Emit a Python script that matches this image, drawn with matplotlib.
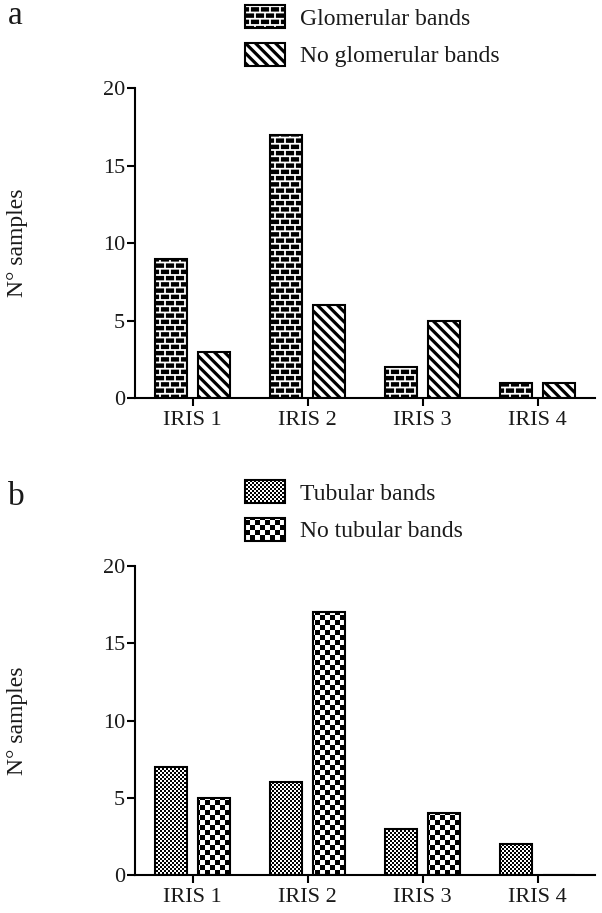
import matplotlib
matplotlib.use('Agg')
import matplotlib.pyplot as plt
import numpy as np
import matplotlib.hatch as mhatch
from matplotlib.path import Path

# ---------------- data ----------------
categories = ['IRIS 1', 'IRIS 2', 'IRIS 3', 'IRIS 4']
glomerular = [9, 17, 2, 1]
no_glomerular = [3, 6, 5, 1]
tubular = [7, 6, 3, 2]
no_tubular = [5, 17, 4, 0]
yticks = [0, 5, 10, 15, 20]
labels_a = ['Glomerular bands', 'No glomerular bands']
labels_b = ['Tubular bands', 'No tubular bands']

plt.rcParams['font.family'] = ['Liberation Serif', 'DejaVu Serif']
plt.rcParams['hatch.linewidth'] = 0.0


# ---------------- custom filled hatch textures ----------------
class _PolyHatch(mhatch.HatchPatternBase):
    key = None

    def __init__(self, hatch, density):
        self.polys = self.make() if (self.key in hatch) else []
        self.num_vertices = 5 * len(self.polys)

    def set_vertices_and_codes(self, vertices, codes):
        for i, p in enumerate(self.polys):
            vertices[5 * i:5 * i + 4] = p
            vertices[5 * i + 4] = p[0]
            codes[5 * i] = Path.MOVETO
            codes[5 * i + 1:5 * i + 4] = Path.LINETO
            codes[5 * i + 4] = Path.CLOSEPOLY


def _checker(n):
    s = 1.0 / n
    polys = []
    for i in range(n):
        for j in range(n):
            if (i + j) % 2 == 0:
                x0, y0 = i * s, j * s
                polys.append([(x0, y0), (x0 + s, y0), (x0 + s, y0 + s), (x0, y0 + s)])
    return polys


class BigChecker(_PolyHatch):
    key = 'O'

    def make(self):
        return _checker(20)


class FineChecker(_PolyHatch):
    key = 'o'

    def make(self):
        return _checker(50)


class Stripes(_PolyHatch):
    key = '\\'

    def make(self):
        p, w = 0.1, 0.045
        polys = []
        for k in range(-11, 12):
            a = k * p
            polys.append([(a, 1), (a + w, 1), (a + w + 1, 0), (a + 1, 0)])
        return polys


class Bricks(_PolyHatch):
    key = '*'

    def make(self):
        nrows, ncols, g = 16, 10, 0.018
        h, bw = 1.0 / nrows, 1.0 / ncols
        polys = []
        for r in range(nrows):
            off = 0 if r % 2 == 0 else bw / 2
            y0, y1 = r * h + g / 2, (r + 1) * h - g / 2
            for c in range(-1, ncols + 1):
                x0 = c * bw + off + g / 2
                x1 = (c + 1) * bw + off - g / 2
                polys.append([(x0, y0), (x1, y0), (x1, y1), (x0, y1)])
        return polys


_keep = [t for t in mhatch._hatch_types
         if t.__name__ not in ('SouthEastHatch', 'SmallCircles', 'LargeCircles', 'Stars')]
mhatch._hatch_types[:] = _keep + [BigChecker, FineChecker, Stripes, Bricks]

# ---------------- figure ----------------
W, H = 602, 913
fig = plt.figure(figsize=(W / 100, H / 100), dpi=100)
ax1 = fig.add_axes([135 / W, (H - 398) / H, 460 / W, 310 / H])
ax2 = fig.add_axes([135 / W, (H - 875) / H, 460 / W, 309 / H])

TXT = '#1a1a1a'


def panel(ax, s1, s2, h1, h2, labels, leg_top):
    x = np.arange(len(categories))
    off, bw = 0.187, 0.27
    ax.bar(x - off, s1, bw, color='white', edgecolor='black', linewidth=1.5,
           hatch=h1, label=labels[0])
    ax.bar(x + off, s2, bw, color='white', edgecolor='black', linewidth=1.5,
           hatch=h2, label=labels[1])
    ax.set_xlim(-0.5, 3.5)
    ax.set_ylim(0, 20)
    ax.set_yticks(yticks)
    ax.set_xticks(x)
    ax.set_xticklabels(categories)
    for s in ('top', 'right'):
        ax.spines[s].set_visible(False)
    for s in ('left', 'bottom'):
        ax.spines[s].set_linewidth(1.5)
    ax.tick_params(axis='both', labelsize=16, width=1.5, length=5.5,
                   direction='out', labelcolor=TXT)
    ax.tick_params(axis='y', pad=1.5)
    ax.tick_params(axis='x', pad=4)
    ax.set_ylabel('N° samples', fontsize=17, color=TXT)
    ax.yaxis.set_label_coords(-0.232, 0.5)
    leg = ax.legend(loc='upper left', bbox_to_anchor=(245 / W, 1 - leg_top / H),
                    bbox_transform=fig.transFigure, frameon=False, fontsize=17,
                    handlelength=1.7, handleheight=1.15, handletextpad=0.64,
                    labelspacing=0.55, borderpad=0, borderaxespad=0)
    for t in leg.get_texts():
        t.set_color(TXT)


panel(ax1, glomerular, no_glomerular, '*', '\\', labels_a, 5)
panel(ax2, tubular, no_tubular, 'o', 'O', labels_b, 480)

fig.text(8 / W, 1 - 24 / H, 'a', fontsize=24, color=TXT, va='baseline', ha='left')
fig.text(8 / W, 1 - 505 / H, 'b', fontsize=24, color=TXT, va='baseline', ha='left')

fig.savefig('out.png', dpi=100)
